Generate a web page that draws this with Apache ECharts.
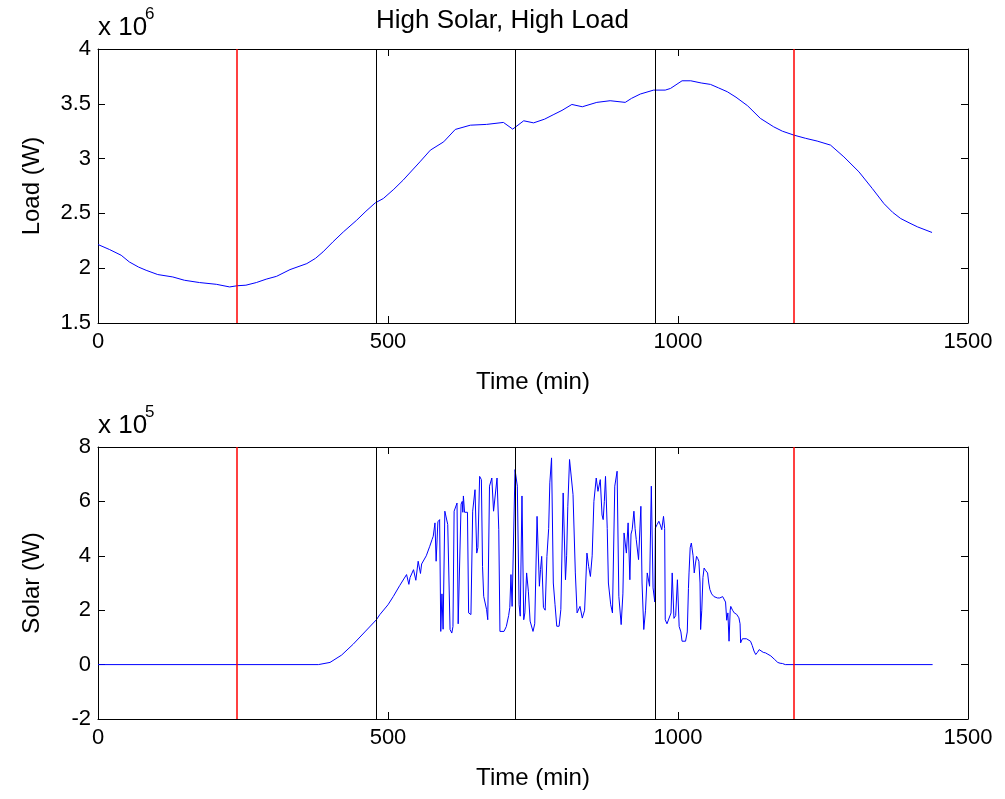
<!DOCTYPE html>
<html><head><meta charset="utf-8">
<script src="https://cdn.jsdelivr.net/npm/echarts@6/dist/echarts.min.js"></script>
<style>html,body{margin:0;padding:0;background:#fff}#c{width:1005px;height:799px}</style>
</head><body><div id="c"></div>
<script>
// ---- data (time in minutes; load in units of 1e6 W; solar in units of 1e5 W) ----
const loadTimes = [0,20,40,54,70,83,103,129,149,175,204,227,240,255,273,290,308,331,360,375,388,405,423,446,462,478,492,510,526,555,573,596,616,642,670,699,715,734,751,770,786,800,817,835,860,883,909,920,935,958,978,987,1007,1022,1040,1056,1070,1085,1100,1120,1142,1165,1180,1200,1220,1240,1263,1286,1312,1335,1355,1370,1384,1400,1413,1438];
const loadValues = [2.216,2.17,2.118,2.057,2.01,1.981,1.942,1.92,1.89,1.869,1.853,1.829,1.84,1.845,1.869,1.9,1.926,1.987,2.042,2.09,2.149,2.24,2.331,2.438,2.52,2.596,2.636,2.72,2.803,2.97,3.077,3.153,3.266,3.305,3.312,3.33,3.269,3.345,3.326,3.36,3.403,3.44,3.494,3.473,3.513,3.528,3.513,3.55,3.589,3.625,3.625,3.64,3.71,3.71,3.69,3.677,3.645,3.61,3.56,3.482,3.367,3.29,3.25,3.214,3.185,3.16,3.123,3.016,2.879,2.727,2.59,2.51,2.453,2.41,2.377,2.326];

const solarTimes = [0,380,400,420,440,460,480,486,500,509,520,532,536,538,544,548,552,556,558,566,572,576,578,581,583,586,589,591,593,595,598,601,603,605,607,610,612,614,617,619,621,624,626,628,629,630,632,634,637,639,643,646,650,653,655,658,661,663,665,670,672,675,679,682,685,688,691,693,700,704,708,710,712,714,717,719,723,726,728,731,734,736,739,742,745,750,753,757,761,763,765,768,771,774,777,779,782,785,788,791,795,798,802,806,808,810,813,816,819,823,826,828,831,835,839,843,846,849,852,855,859,862,866,869,871,873,875,878,880,884,887,891,895,898,902,905,907,911,914,917,919,921,924,926,928,932,936,938,941,944,947,951,954,957,960,961,964,967,970,972,975,977,978,981,984,988,990,993,996,999,1002,1005,1007,1013,1016,1018,1019,1021,1023,1026,1028,1030,1032,1034,1036,1038,1039,1041,1043,1045,1048,1051,1053,1055,1058,1062,1065,1068,1072,1074,1077,1080,1082,1084,1086,1088,1090,1091,1094,1097,1101,1105,1107,1108,1111,1114,1118,1121,1125,1128,1131,1134,1137,1140,1143,1147,1151,1155,1160,1163,1166,1168,1172,1176,1180,1185,1439];
const solarValues = [0,0,0.08,0.35,0.75,1.2,1.65,1.84,2.2,2.5,2.9,3.31,2.95,3.2,3.49,3.1,3.8,3.35,3.7,4.0,4.35,4.6,4.72,5.21,3.8,5.25,5.33,1.22,2.6,1.3,5.64,5.6,5.15,5.2,1.29,1.16,1.4,5.64,5.7,5.94,1.5,1.45,5.9,6.0,5.6,6.2,5.6,5.58,5.6,1.9,1.84,5.64,6.43,4.1,4.3,6.92,6.8,3.6,2.51,2.02,1.65,6.56,6.86,5.64,5.7,6.86,4.96,1.22,1.22,1.4,1.8,2.1,3.31,2.14,2.14,7.17,6.56,2.2,1.78,6.2,1.65,1.9,3.37,2.7,1.6,1.22,1.5,5.45,2.88,3.5,3.98,2.1,2.0,3.98,5.0,6.68,7.6,3.0,2.2,1.41,1.41,2.02,6.31,3.12,4.0,5.82,7.54,7.6,6.25,3.37,1.9,1.9,2.14,1.71,2.0,4.1,3.6,3.24,4.0,6.0,6.86,6.37,6.8,5.5,5.33,6.0,6.92,5.0,3.0,2.2,1.9,6.56,7.11,2.51,1.47,2.6,4.84,4.1,5.21,3.12,4.8,4.96,5.64,5.0,4.6,3.86,5.82,3.0,1.29,2.0,3.37,2.88,6.56,2.82,2.3,5.02,5.15,5.27,5.1,4.96,5.45,5.0,1.65,1.5,1.5,1.9,3.37,1.7,1.8,3.12,1.4,1.2,0.86,0.86,1.2,2.8,3.37,4.3,4.47,4.0,3.37,3.7,3.98,3.9,3.8,3.0,1.29,2.0,3.2,3.55,3.45,3.37,3.0,2.76,2.6,2.5,2.51,2.45,2.45,2.38,2.5,2.5,2.3,1.63,1.9,0.86,2.0,2.14,2.0,1.9,1.85,1.72,1.5,0.8,0.95,0.98,0.95,0.9,0.86,0.7,0.5,0.37,0.45,0.55,0.49,0.45,0.43,0.38,0.32,0.31,0.2,0.16,0.08,0.05,0.04,0,0];

const redMarkerTimes = [240,1200];
const blackMarkerTimes = [480,720,960];

const xTicks = [0,500,1000,1500];
const loadTicks = [1.5,2,2.5,3,3.5,4];
const solarTicks = [-2,0,2,4,6,8];

const titleText = 'High Solar, High Load';
const xName = 'Time (min)';
const loadName = 'Load (W)';
const solarName = 'Solar (W)';
const loadExp = '6';
const solarExp = '5';

// ---- chart ----
const FONT = '"Liberation Sans", Arial, Helvetica, sans-serif';
const chart = echarts.init(document.getElementById('c'), null, {renderer:'canvas'});

function xAx(grid, pos, main) {
  return {
    type:'value', gridIndex:grid, position:pos,
    min:xTicks[0], max:xTicks[xTicks.length-1], interval:xTicks[1]-xTicks[0],
    axisLine:{show:true, onZero:false, lineStyle:{color:'#000', width:1}},
    axisTick:{show:true, inside:true, length:7, lineStyle:{color:'#000', width:1}},
    axisLabel:{show:main, color:'#000', fontSize:22, fontFamily:FONT, margin:8, showMinLabel:true, showMaxLabel:true,
               formatter:(v)=>String(v)},
    splitLine:{show:false},
    name: main ? xName : '', nameLocation:'middle', nameGap:47,
    nameTextStyle:{color:'#000', fontSize:24, fontFamily:FONT}
  };
}
function yAx(grid, pos, main, ticks, name) {
  return {
    type:'value', gridIndex:grid, position:pos,
    min:ticks[0], max:ticks[ticks.length-1], interval:ticks[1]-ticks[0],
    axisLine:{show:true, onZero:false, lineStyle:{color:'#000', width:1}},
    axisTick:{show:true, inside:true, length:7, lineStyle:{color:'#000', width:1}},
    axisLabel:{show:main, color:'#000', fontSize:22, fontFamily:FONT, margin:7, showMinLabel:true, showMaxLabel:true,
               formatter:(v)=>String(v)},
    splitLine:{show:false},
    name: main ? name : '', nameLocation:'middle', nameGap:54, nameRotate:90,
    nameTextStyle:{color:'#000', fontSize:24, fontFamily:FONT}
  };
}
function markLines(times, color, w){
  return {
    silent:true, symbol:['none','none'], animation:false, label:{show:false},
    lineStyle:{color:color, width:w, type:'solid', opacity:1},
    emphasis:{disabled:true},
    data: times.map(t=>({xAxis:t}))
  };
}
function hostSeries(xi, yi, ts, vals, times, color, w){
  return {
    type:'line', xAxisIndex:xi, yAxisIndex:yi,
    data: ts.map((t,i)=>[t, vals[i]]),
    showSymbol:false, symbol:'none', silent:true,
    lineStyle:{opacity:0, width:0},
    markLine: markLines(times, color, w),
    z:1
  };
}

const option = {
  animation:false,
  backgroundColor:'#fff',
  grid:[
    {left:98, top:49, width:870, height:274},
    {left:98, top:447, width:870, height:272}
  ],
  xAxis:[ xAx(0,'bottom',true), xAx(0,'top',false), xAx(1,'bottom',true), xAx(1,'top',false) ],
  yAxis:[ yAx(0,'left',true,loadTicks,loadName), yAx(0,'right',false,loadTicks,''),
          yAx(1,'left',true,solarTicks,solarName), yAx(1,'right',false,solarTicks,'') ],
  series:[
    hostSeries(0,0,loadTimes,loadValues,blackMarkerTimes,'#000000',1),
    hostSeries(2,2,solarTimes,solarValues,blackMarkerTimes,'#000000',1),
    {type:'line', xAxisIndex:0, yAxisIndex:0, data:loadTimes.map((t,i)=>[t, loadValues[i]]),
     showSymbol:false, symbol:'none', lineStyle:{color:'#0000ff', width:1}, z:3,
     markLine: markLines(redMarkerTimes, '#ff0000', 1.5)},
    {type:'line', xAxisIndex:2, yAxisIndex:2, data:solarTimes.map((t,i)=>[t, solarValues[i]]),
     showSymbol:false, symbol:'none', lineStyle:{color:'#0000ff', width:1}, z:3,
     markLine: markLines(redMarkerTimes, '#ff0000', 1.5)}
  ],
  graphic:[
    {type:'text', left:'center', top:8, style:{text:titleText, font:'26px '+FONT, fill:'#000'}},
    {type:'text', x:98, y:28, style:{text:'x 10', font:'26px '+FONT, fill:'#000', verticalAlign:'middle'}},
    {type:'text', x:145, y:14, style:{text:loadExp, font:'17px '+FONT, fill:'#000', verticalAlign:'middle'}},
    {type:'text', x:98, y:426, style:{text:'x 10', font:'26px '+FONT, fill:'#000', verticalAlign:'middle'}},
    {type:'text', x:145, y:412, style:{text:solarExp, font:'17px '+FONT, fill:'#000', verticalAlign:'middle'}}
  ]
};
chart.setOption(option);
</script>
</body></html>
